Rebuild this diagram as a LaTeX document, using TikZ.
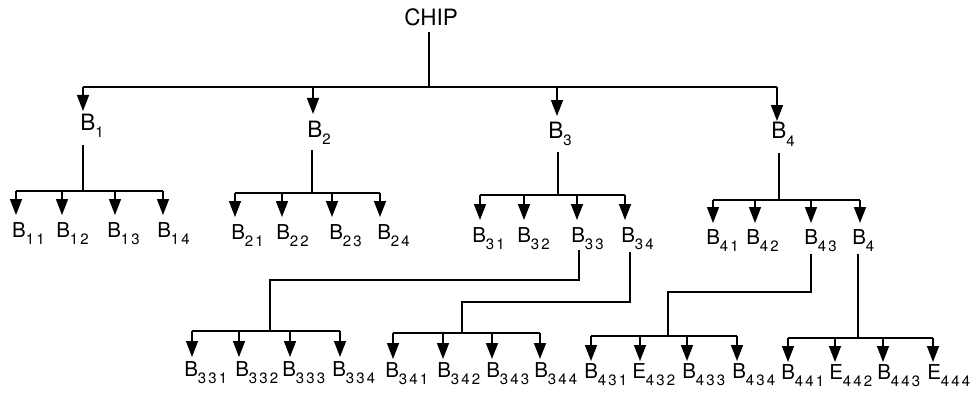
\documentclass[tikz,border=0pt]{standalone}
\usepackage{fontspec}
\setmainfont{TeX Gyre Heros}
\usetikzlibrary{arrows.meta}
\newcommand\lbl[2]{#1\raisebox{-7pt}{\fontsize{15pt}{15pt}\selectfont\addfontfeature{LetterSpace=14}#2}}
\begin{document}
\begin{tikzpicture}[x=1pt,y=-1pt,line width=1.5pt,
  arr/.style={-{Triangle[width=12pt,length=16pt]}},
  lab1/.style={font=\fontsize{22.5pt}{22.5pt}\selectfont,inner sep=0pt,anchor=base west},
  lab2/.style={font=\fontsize{20.5pt}{20.5pt}\selectfont,inner sep=0pt,anchor=base west}]
\useasboundingbox (0,0) rectangle (975,396);
% level 0
\node[lab1] (chip) at (403.5,26) {CHIP};
\coordinate (c0) at (429,32);
\coordinate (c1) at (429,87);
\draw (c0) -- (c1);
\coordinate (hL) at (83,87);
\coordinate (hR) at (777,87);
\draw (hL) -- (hR);
% level 1
\foreach \i/\x/\t/\lx/\by in {1/83/111/79.5/130,2/313/114/306.5/137,3/557/116/547.5/138,4/777/121/770.5/139}{
  \coordinate (s\i) at (\x,87);
  \coordinate (t\i) at (\x,\t);
  \draw[arr] (s\i) -- (t\i);
  \node[lab1] (b\i) at (\lx,\by) {\lbl{B}{\i}};
}
% stems from level 1
\foreach \i/\x/\ya/\yb in {1/83/145/191,2/312/150/193,3/558/152/195,4/779/153/200}{
  \coordinate (d\i) at (\x,\ya);
  \coordinate (e\i) at (\x,\yb);
  \draw (d\i) -- (e\i);
}
% level 2, group 1
\foreach \s/\x/\lx in {11/16/11.5,12/62/55.5,13/115/106.5,14/163/156.5}{
  \coordinate (j\s) at (\x,191); \coordinate (t\s) at (\x,215);
  \draw[arr] (j\s) -- (t\s);
  \node[lab2] (b\s) at (\lx,237) {\lbl{B}{\s}};
}
\draw (j11) -- (j14);
% group 2
\foreach \s/\x/\lx in {21/235/230.5,22/282/275.5,23/332/328.5,24/380/376.5}{
  \coordinate (j\s) at (\x,193); \coordinate (t\s) at (\x,217);
  \draw[arr] (j\s) -- (t\s);
  \node[lab2] (b\s) at (\lx,239) {\lbl{B}{\s}};
}
\draw (j21) -- (j24);
% group 3
\foreach \s/\x/\lx in {31/480/471.5,32/524/516.5,33/577/570.5,34/625/620.5}{
  \coordinate (j\s) at (\x,195); \coordinate (t\s) at (\x,220);
  \draw[arr] (j\s) -- (t\s);
  \node[lab2] (b\s) at (\lx,242) {\lbl{B}{\s}};
}
\draw (j31) -- (j34);
% group 4
\foreach \s/\x/\lx/\tx in {41/713/705.5/41,42/755/745.5/42,43/811/803.5/43,44/860/851.5/{}}{
  \coordinate (j\s) at (\x,200); \coordinate (t\s) at (\x,223);
  \draw[arr] (j\s) -- (t\s);
  \node[lab2] (b\s) at (\lx,244) {\lbl{B}{\ifx\tx\empty 4\else\tx\fi}};
}
\draw (j41) -- (j44);
% stems from level 2
\coordinate (u33) at (579,250); \coordinate (m33) at (270,280); \coordinate (v33) at (270,331);
\draw (u33) |- (m33) -- (v33);
\coordinate (u34) at (630,252); \coordinate (m34) at (462,302); \coordinate (v34) at (462,333);
\draw (u34) |- (m34) -- (v34);
\coordinate (u43) at (811,254); \coordinate (m43) at (668,292); \coordinate (v43) at (668,336);
\draw (u43) |- (m43) -- (v43);
\coordinate (u44) at (858,254); \coordinate (v44) at (858,338);
\draw (u44) -- (v44);
% level 3, group 33
\foreach \s/\L/\x/\lx in {331/B/192/183.5,332/B/239/234.5,333/B/290/281.5,334/B/340/331.5}{
  \coordinate (j\s) at (\x,331); \coordinate (t\s) at (\x,357);
  \draw[arr] (j\s) -- (t\s);
  \node[lab2] (b\s) at (\lx,376) {\lbl{\L}{\s}};
}
\draw (j331) -- (j334);
% group 34
\foreach \s/\L/\x/\lx in {341/B/393/384.5,342/B/443/436.5,343/B/492/485.5,344/B/540/533.5}{
  \coordinate (j\s) at (\x,333); \coordinate (t\s) at (\x,359);
  \draw[arr] (j\s) -- (t\s);
  \node[lab2] (b\s) at (\lx,377) {\lbl{\L}{\s}};
}
\draw (j341) -- (j344);
% group 43
\foreach \s/\L/\x/\lx in {431/B/591/583.5,432/E/640/631.5,433/B/687/681.5,434/B/737/731.5}{
  \coordinate (j\s) at (\x,336); \coordinate (t\s) at (\x,361);
  \draw[arr] (j\s) -- (t\s);
  \node[lab2] (b\s) at (\lx,378) {\lbl{\L}{\s}};
}
\draw (j431) -- (j434);
% group 44
\foreach \s/\L/\x/\lx in {441/B/788/780.5,442/E/835/828.5,443/B/883/876.5,444/E/933/926.5}{
  \coordinate (j\s) at (\x,338); \coordinate (t\s) at (\x,362);
  \draw[arr] (j\s) -- (t\s);
  \node[lab2] (b\s) at (\lx,379) {\lbl{\L}{\s}};
}
\draw (j441) -- (j444);
\end{tikzpicture}
\end{document}
